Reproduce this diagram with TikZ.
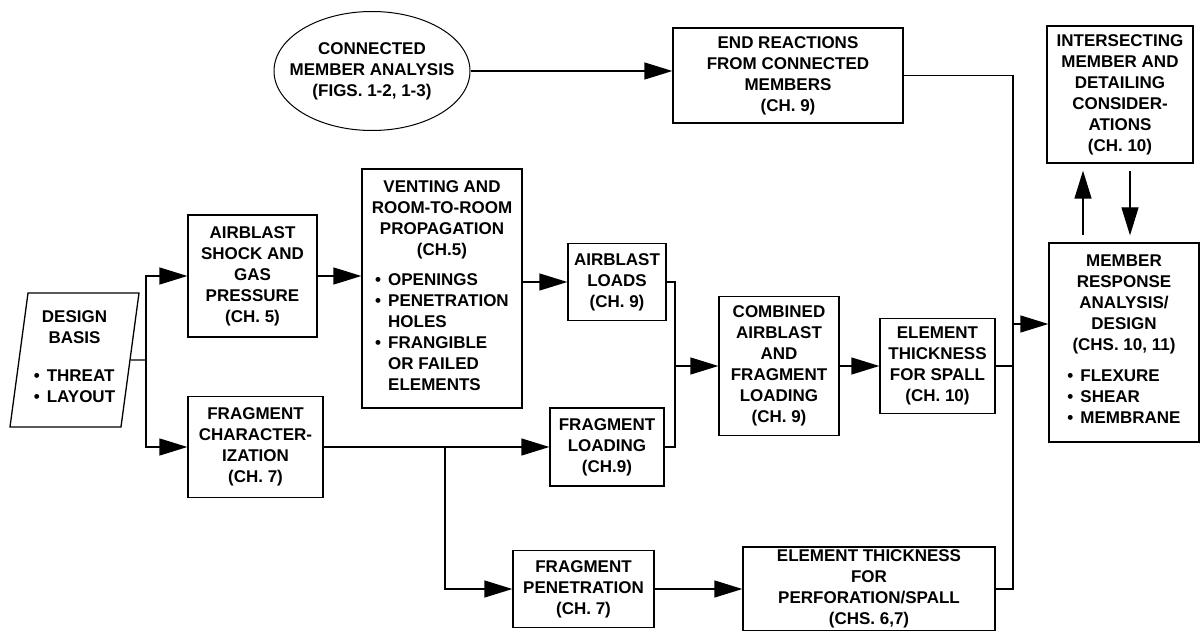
\documentclass[tikz,border=0pt]{standalone}
\usepackage{fontspec}
\setmainfont{Liberation Sans}
\usetikzlibrary{arrows.meta,shapes.geometric}

\newcommand{\bulletlist}[1]{\begin{tabular}[t]{@{}l@{\hspace{7pt}}l@{}}#1\end{tabular}}

\begin{document}
\begin{tikzpicture}[x=1pt, y=-1pt,
    every node/.style={font=\bfseries\fontsize{17}{21}\selectfont},
    box/.style={draw, rectangle, line width=1.3pt, align=center, inner sep=2pt},
    slantbox/.style={draw, trapezium, trapezium left angle=80, trapezium right angle=100, trapezium stretches body=true, line width=1.3pt, align=center, inner sep=2pt},
    ovalbox/.style={draw, ellipse, line width=1pt, inner sep=0pt},
    arr/.style={-{Triangle[length=28pt, width=17pt]}, line width=1.3pt},
    link/.style={line width=1.3pt},
]
\useasboundingbox (0,0) rectangle (1200,631);

% Top row
\node[ovalbox, minimum width=196pt, minimum height=119pt] (conn) at (372,71) {};
\node[align=center] (connlabel) at (conn) {CONNECTED\\MEMBER ANALYSIS\\(FIGS. 1-2, 1-3)};
\node[box, minimum width=230pt, minimum height=95pt] (endreact) at (788,75.5) {END REACTIONS\\FROM CONNECTED\\MEMBERS\\(CH. 9)};
\node[box, minimum width=146pt, minimum height=137pt] (intersect) at (1120,94.5) {INTERSECTING\\MEMBER AND\\DETAILING\\CONSIDER-\\ATIONS\\(CH. 10)};

% Design basis
\node[slantbox, minimum width=129pt, minimum height=134pt] (basis) at (74.5,360) {DESIGN\\BASIS\\[17pt]\bulletlist{\textbullet&THREAT\\\textbullet&LAYOUT}};

% Airblast branch
\node[box, minimum width=129pt, minimum height=122pt] (airshock) at (252.5,276) {AIRBLAST\\SHOCK AND\\GAS\\PRESSURE\\(CH. 5)};
\node[box, minimum width=160pt, minimum height=239pt] (venting) at (442,288.5) {VENTING AND\\ROOM-TO-ROOM\\PROPAGATION\\(CH.5)\\[9pt]\bulletlist{\textbullet&OPENINGS\\\textbullet&PENETRATION\\&HOLES\\\textbullet&FRANGIBLE\\&OR FAILED\\&ELEMENTS}};
\node[box, minimum width=98pt, minimum height=77pt] (airloads) at (617,282) {AIRBLAST\\LOADS\\(CH. 9)};

% Fragment branch
\node[box, minimum width=135pt, minimum height=101pt] (fragchar) at (255.5,447) {FRAGMENT\\CHARACTER-\\IZATION\\(CH. 7)};
\node[box, minimum width=114pt, minimum height=78pt] (fragload) at (607,447) {FRAGMENT\\LOADING\\(CH.9)};
\node[box, minimum width=141pt, minimum height=77pt] (fragpen) at (583.5,589) {FRAGMENT\\PENETRATION\\(CH. 7)};
\node[box, minimum width=252pt, minimum height=84pt] (perf) at (869,589) {ELEMENT THICKNESS\\FOR\\PERFORATION/SPALL\\(CHS. 6,7)};

% Combined loading and spall
\node[box, minimum width=120pt, minimum height=139pt] (combined) at (779,366) {COMBINED\\AIRBLAST\\AND\\FRAGMENT\\LOADING\\(CH. 9)};
\node[box, minimum width=115pt, minimum height=95pt] (spall) at (937.5,366) {ELEMENT\\THICKNESS\\FOR SPALL\\(CH. 10)};

% Member response
\node[box, minimum width=150pt, minimum height=199pt] (member) at (1124,342.5) {MEMBER\\RESPONSE\\ANALYSIS/\\DESIGN\\(CHS. 10, 11)\\[10pt]\bulletlist{\textbullet&FLEXURE\\\textbullet&SHEAR\\\textbullet&MEMBRANE}};

% Junction points
\coordinate (fork) at (146,360);
\coordinate (tap) at (445,447);
\coordinate (merge) at (675,366);
\coordinate (busS) at (1013,589);
\coordinate (busM) at (1013,324);

% Arrows
\draw[link] (basis.east) -- (fork);
\draw[arr] (fork) |- (airshock);
\draw[arr] (fork) |- (fragchar);
\draw[arr] (airshock) -- (airshock -| venting.west);
\draw[arr] (airloads -| venting.east) -- (airloads);
\draw[arr] (fragchar) -- (fragload);
\draw[arr] (tap) |- (fragpen);
\draw[arr] (fragpen) -- (perf);
\draw[link] (airloads.east) -| (merge) |- (fragload.east);
\draw[arr] (merge) -- (combined);
\draw[arr] (combined) -- (spall);
\draw[arr] (conn) -- (conn -| endreact.west);
\draw[link] (endreact.east) -| (busS) -- (perf.east);
\draw[link] (spall.east) -- (spall.east -| busS);
\draw[arr] (busM) -- (busM -| member.west);
\draw[arr, shorten <=7pt, shorten >=7pt] ([xshift=-41pt]member.north) -- ([xshift=-41pt]member.north |- intersect.south);
\draw[arr, shorten <=7pt, shorten >=7pt] ([xshift=10pt]intersect.south) -- ([xshift=10pt]intersect.south |- member.north);
\end{tikzpicture}
\end{document}
